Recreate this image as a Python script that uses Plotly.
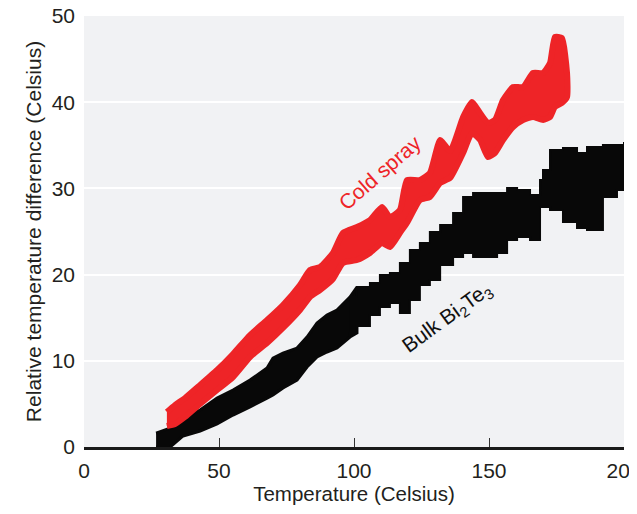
import plotly.graph_objects as go

# ---- data ----
cold_x = [30.7, 33.7, 37.4, 43.0, 49.3, 55.2, 61.5, 67.8, 73.7, 80.0, 83.7, 87.4, 92.2, 95.9,
          101.1, 105.9, 110.4, 113.3, 117.0, 119.6, 124.4, 128.1, 131.9, 135.6, 140.4, 143.7,
          146.7, 149.6, 152.2, 155.2, 158.9, 162.6, 166.3, 170.0, 172.6, 174.4, 177.0, 178.9]
cold_upper = [4.06, 4.87, 5.68, 7.19, 8.93, 10.79, 12.99, 14.73, 16.47, 18.79, 20.53, 20.88, 22.51, 24.83,
              25.52, 26.33, 27.84, 26.68, 27.49, 30.97, 30.97, 31.79, 35.61, 34.34, 38.28, 40.02,
              38.75, 37.59, 37.94, 40.26, 41.76, 41.76, 43.39, 43.39, 44.55, 47.56, 47.45, 43.39]
cold_lower = [2.44, 2.67, 3.48, 4.99, 6.61, 8.12, 10.44, 12.06, 13.81, 15.89, 17.40, 18.21, 19.49, 21.35,
              21.69, 22.51, 23.67, 23.20, 24.83, 25.99, 28.65, 29.00, 30.63, 31.21, 34.11, 36.43,
              35.61, 33.64, 34.11, 35.61, 37.12, 37.94, 38.28, 37.94, 38.28, 39.44, 39.91, 40.60]

bulk_x = [26.7, 31.9, 36.7, 43.0, 49.3, 55.2, 61.5, 67.8, 70.0, 73.7, 78.9, 82.6, 86.3, 90.0,
          93.7, 98.5, 101.1, 105.9, 109.6, 113.3, 117.0, 120.7, 124.4, 128.1, 131.9, 136.7,
          140.4, 144.1, 147.8, 153.0, 156.7, 160.4, 165.2, 168.9, 170.0, 172.6, 177.4, 182.6,
          186.3, 192.2, 197.4, 200.0]
bulk_upper = [1.62, 2.20, 3.36, 4.29, 5.68, 6.61, 7.77, 9.16, 10.32, 10.90, 11.48, 12.76, 14.39, 15.31,
              15.89, 17.40, 18.56, 19.03, 19.95, 20.19, 21.35, 22.85, 23.67, 24.94, 25.75, 27.15,
              29.00, 29.47, 29.47, 29.47, 30.05, 29.81, 29.23, 30.97, 32.13, 34.45, 34.69, 34.11,
              34.80, 35.03, 35.03, 35.38]
bulk_lower = [0.0, 0.0, 1.28, 1.86, 2.67, 3.71, 4.64, 5.68, 6.03, 6.84, 7.77, 9.28, 10.44, 11.02,
              11.48, 12.76, 13.23, 14.04, 15.31, 16.24, 16.71, 15.55, 17.05, 18.79, 19.37, 21.11,
              22.04, 22.51, 22.04, 22.04, 22.51, 24.01, 24.36, 24.01, 27.84, 27.84, 27.49, 26.10,
              25.41, 25.17, 29.00, 29.81]

x_ticks = [0, 50, 100, 150, 200]
y_ticks = [0, 10, 20, 30, 40, 50]

RED = "#ee2427"
BLACK = "#080808"

fig = go.Figure()

# lower (finely serrated) part of the bulk band, drawn straight
split = 17
lx, lu, ll = bulk_x[:split], bulk_upper[:split], bulk_lower[:split]
fig.add_trace(go.Scatter(
    x=lx + lx[::-1], y=lu + ll[::-1],
    mode="lines", fill="toself", fillcolor=BLACK,
    line=dict(color=BLACK, width=3),
    hoverinfo="skip", showlegend=False,
))
# upper (blocky) part of the bulk band, drawn as steps
ux, uu, ul = bulk_x[split - 2:], bulk_upper[split - 2:], bulk_lower[split - 2:]
fig.add_trace(go.Scatter(
    x=ux + ux[::-1], y=uu + ul[::-1],
    mode="lines", fill="toself", fillcolor=BLACK,
    line=dict(color=BLACK, width=2, shape="hv"),
    hoverinfo="skip", showlegend=False,
))

fig.add_trace(go.Scatter(
    x=cold_x + cold_x[::-1],
    y=cold_upper + cold_lower[::-1],
    mode="lines", fill="toself", fillcolor=RED,
    line=dict(color=RED, width=6, shape="spline", smoothing=0.5),
    hoverinfo="skip", showlegend=False,
))

fig.add_annotation(x=109.5, y=31.9, text="Cold spray", showarrow=False,
                   textangle=-41, font=dict(color=RED, size=21))
fig.add_annotation(x=134.5, y=15.0, text="Bulk Bi<sub>2</sub>Te<sub>3</sub>", showarrow=False,
                   textangle=-36, font=dict(color="#111111", size=21))

FONT = "Liberation Sans, Arial, sans-serif"

# the page body adds an 8 px offset, so margins are set relative to that
fig.update_layout(
    width=637, height=514,
    margin=dict(l=76, r=21, t=8, b=75),
    paper_bgcolor="white", plot_bgcolor="#f1f2f4",
    font=dict(family=FONT, color="#231f20", size=20),
    xaxis=dict(
        range=[0, 200], tickvals=x_ticks, ticktext=[str(v) for v in x_ticks],
        showgrid=False, zeroline=False, automargin=False,
        showline=True, linecolor="#1a1a1a", linewidth=3,
        ticks="inside", ticklen=9, tickwidth=1, tickcolor="#333333",
        ticklabelstandoff=3, ticklabeloverflow="allow",
        title=dict(text="Temperature (Celsius)", standoff=6, font=dict(size=20.5)),
        tickfont=dict(size=21),
    ),
    yaxis=dict(
        range=[0, 50], tickvals=y_ticks, ticktext=[str(v) for v in y_ticks],
        showgrid=True, gridcolor="white", gridwidth=1.5,
        zeroline=False, showline=False, ticks="", automargin=False,
        ticklabelstandoff=8, ticklabeloverflow="allow",
        title=dict(text="Relative temperature difference (Celsius)", standoff=4, font=dict(size=21)),
        tickfont=dict(size=21),
    ),
)

fig.write_html("out.html")
